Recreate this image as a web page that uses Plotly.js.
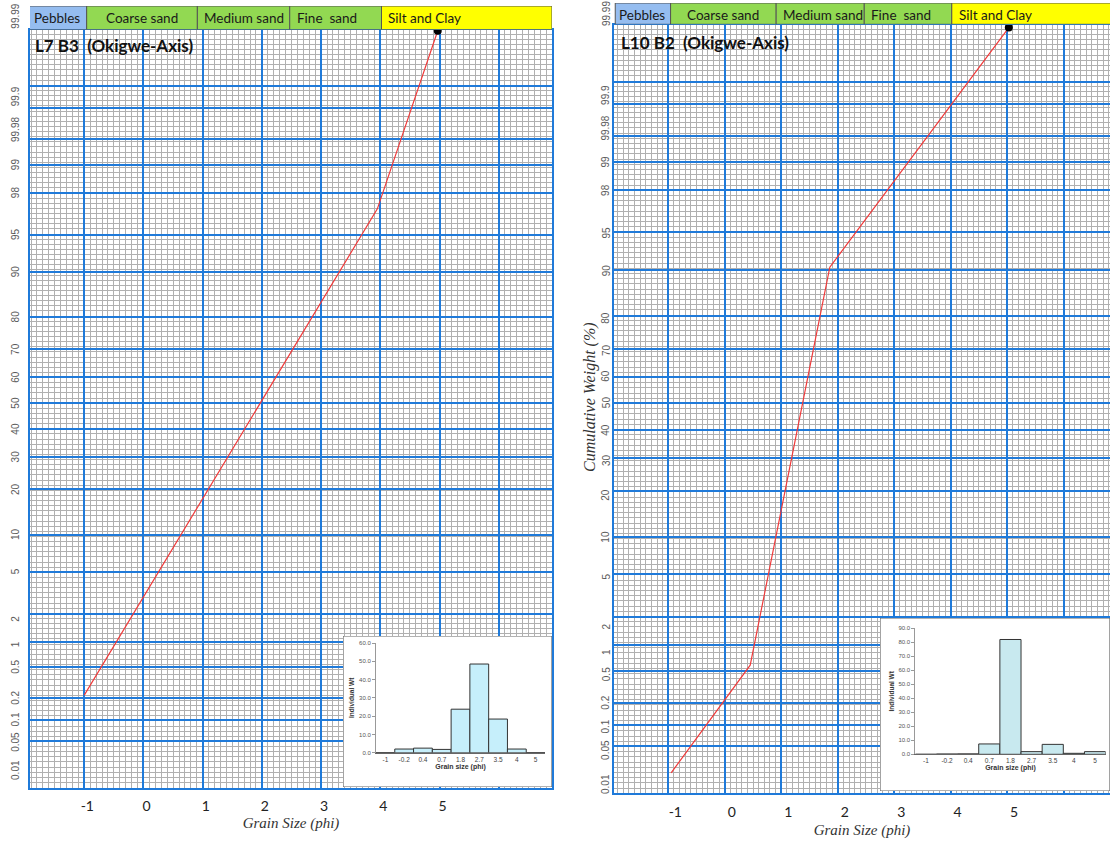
<!DOCTYPE html>
<html>
<head>
<meta charset="utf-8">
<script src="https://cdn.plot.ly/plotly-3.0.1.min.js"></script>
<style>html,body{margin:0;padding:0;background:#fff}#chart{width:1110px;height:841px}</style>
</head>
<body>
<div id="chart"></div>
<script>
// ---------------- data ----------------
const phiTicks    = [-1, 0, 1, 2, 3, 4, 5, 6];
const phiTickText = ['-1', '0', '1', '2', '3', '4', '5', ''];

// probability-paper major (blue) rulings, cumulative %
const gridPct = [99.9, 99.8, 99.5, 99, 98, 95, 90, 80, 70, 60, 50, 40, 30, 20, 10, 5, 2, 1, 0.5, 0.2, 0.1, 0.05];

// printed y labels and the probability level at which each one is printed
const yLabelText = ['99.99','99.9','99.98','99','98','95','90','80','70','60','50','40','30','20','10','5','2','1','0.5','0.2','0.1','0.05','0.01'];
const yLabelAtL7  = [99.992, 99.86, 99.62, 99, 98, 95, 90, 80, 70, 60, 50, 40, 30, 20, 10, 5, 1.75, 0.92, 0.5, 0.2, 0.1, 0.047, 0.017];
const yLabelAtL10 = [99.991, 99.85, 99.59, 99, 98, 95, 90, 79.5, 69.6, 60.5, 50.5, 40, 29.3, 19, 10, 4.8, 1.6, 0.84, 0.46, 0.2, 0.094, 0.043, 0.0126];

// grain-size class header (phi edges)
const headerLabels = ['Pebbles', 'Coarse sand', 'Medium sand', 'Fine  sand', 'Silt and Clay'];
const headerEdges  = [-1.94, -0.96, 0.91, 2.47, 4.02, 6.9];
const headerColors = ['#95bdf0', '#92d952', '#92d952', '#92d952', '#ffff00'];
const headerAlign  = ['left', 'center', 'left', 'left', 'left'];

// cumulative curves (phi, cumulative weight %)
const phiL7  = [-1, 3.95, 4.97];
const cumL7  = [0.22, 97.1, 99.986];
const phiL10 = [-0.95, 0.45, 1.86, 5.03];
const cumL10 = [0.019, 0.59, 90.5, 99.985];

// inset histograms
const histCats = ['-1', '-0.2', '0.4', '0.7', '1.8', '2.7', '3.5', '4', '5'];
const histL7   = [0, 2.0, 2.5, 1.8, 23.8, 48.5, 18.4, 2.0, 0];
const histL10  = [0, 0.2, 0.3, 7.4, 82.0, 1.9, 7.1, 0.7, 1.9];

// ---------------- probability scale ----------------
function probit(p) {
  const a=[-3.969683028665376e+01,2.209460984245205e+02,-2.759285104469687e+02,1.383577518672690e+02,-3.066479806614716e+01,2.506628277459239e+00];
  const b=[-5.447609879822406e+01,1.615858368580409e+02,-1.556989798598866e+02,6.680131188771972e+01,-1.328068155288572e+01];
  const c=[-7.784894002430293e-03,-3.223964580411365e-01,-2.400758277161838e+00,-2.549732539343734e+00,4.374664141464968e+00,2.938163982698783e+00];
  const d=[7.784695709041462e-03,3.224671290700398e-01,2.445134137142996e+00,3.754408661907416e+00];
  const pl = 0.02425, ph = 1 - pl;
  let q, r;
  if (p < pl) { q = Math.sqrt(-2*Math.log(p)); return (((((c[0]*q+c[1])*q+c[2])*q+c[3])*q+c[4])*q+c[5])/((((d[0]*q+d[1])*q+d[2])*q+d[3])*q+1); }
  if (p <= ph) { q = p - 0.5; r = q*q; return (((((a[0]*r+a[1])*r+a[2])*r+a[3])*r+a[4])*r+a[5])*q/(((((b[0]*r+b[1])*r+b[2])*r+b[3])*r+b[4])*r+1); }
  q = Math.sqrt(-2*Math.log(1-p)); return -(((((c[0]*q+c[1])*q+c[2])*q+c[3])*q+c[4])*q+c[5])/((((d[0]*q+d[1])*q+d[2])*q+d[3])*q+1);
}
const toZ = pct => probit(pct / 100);

// ---------------- layout helpers ----------------
const W = 1110, H = 841;
const px = v => v / W, py = v => 1 - v / H;
const BLUE = '#1f7ad9', GREY = '#b0b0b0';
const Z_RANGE = [-3.75, 3.645];

function mainX(dom, range, anchor, shift) {
  return {
    domain: dom, range: range, anchor: anchor,
    tickmode: 'array', tickvals: phiTicks, ticktext: phiTickText,
    showgrid: true, gridcolor: BLUE, gridwidth: 2,
    minor: { tick0: 0, dtick: 0.1, showgrid: true, gridcolor: GREY, gridwidth: 1 },
    showline: true, linecolor: BLUE, linewidth: 2, mirror: true,
    ticks: '', ticklabelshift: shift, ticklabelstandoff: 5,
    tickfont: { family: 'Lato', size: 14, color: '#222' },
    zeroline: false, fixedrange: true,
    title: { text: 'Grain Size (phi)', standoff: 4,
             font: { family: 'Liberation Serif', size: 15, color: '#333', style: 'italic' } }
  };
}
function mainY(dom, anchor, mirror) {
  return {
    domain: dom, range: Z_RANGE, anchor: anchor,
    tickmode: 'array', tickvals: gridPct.map(toZ), showticklabels: false,
    showgrid: true, gridcolor: BLUE, gridwidth: 2,
    minor: { tick0: 0, dtick: 0.05, showgrid: true, gridcolor: GREY, gridwidth: 1 },
    showline: true, linecolor: BLUE, linewidth: 2, mirror: mirror,
    ticks: '', zeroline: false, fixedrange: true
  };
}
const hidden = (dom, range, anchor) => ({ domain: dom, range: range, anchor: anchor, visible: false, fixedrange: true });

function histX(dom, anchor) {
  return {
    domain: dom, anchor: anchor, type: 'category', range: [-0.5, 8.5],
    showline: true, linecolor: '#666', linewidth: 1, ticks: '', showgrid: false, zeroline: false,
    tickfont: { family: 'Liberation Sans', size: 6.5, color: '#444' }, fixedrange: true,
    title: { text: '<b>Grain size (phi)</b>', standoff: 2, font: { family: 'Liberation Sans', size: 7, color: '#333' } }
  };
}
function histY(dom, anchor, top) {
  return {
    domain: dom, anchor: anchor, range: [0, top], dtick: 10, tickformat: '.1f',
    showline: true, linecolor: '#999', linewidth: 1, ticks: 'outside', ticklen: 3, tickcolor: '#999',
    showgrid: false, zeroline: false, fixedrange: true,
    tickfont: { family: 'Liberation Sans', size: 6, color: '#555' },
    title: { text: '<b>Individual Wt</b>', standoff: 3, font: { family: 'Liberation Sans', size: 6.5, color: '#333' } }
  };
}

// ---------------- panels ----------------
const L = { xd: [px(30), px(552)], yd: [py(787.6), py(29.5)], xr: [-1.917, 6.90], hd: [py(29.5), py(6)],
            boxX: [px(343), px(552)], boxY: [py(787), py(636)], hX: [px(376), px(545)], hY: [py(752.7), py(643)] };
const R = { xd: [px(614), 1], yd: [py(793.3), py(24.5)], xr: [-1.962, 6.822], hd: [py(24.3), py(3)],
            boxX: [px(880), 1], boxY: [py(791), py(618)], hX: [px(915.3), px(1105.6)], hY: [py(754.3), py(628.3)] };

const mids   = headerLabels.map((_, i) => (headerEdges[i] + headerEdges[i+1]) / 2);
const widths = headerLabels.map((_, i) => headerEdges[i+1] - headerEdges[i]);

function headerTrace(xa, ya) {
  return { type: 'bar', x: mids, y: headerLabels.map(() => 1), width: widths, base: 0,
           xaxis: xa, yaxis: ya, cliponaxis: false, hoverinfo: 'skip',
           marker: { color: headerColors, line: { color: '#555', width: 1 } } };
}
function curveTrace(xs, ys, xa, ya) {
  return { type: 'scatter', mode: 'lines', x: xs, y: ys.map(toZ), xaxis: xa, yaxis: ya,
           line: { color: '#f03a3a', width: 1.2 }, hoverinfo: 'skip', cliponaxis: false };
}
function endTrace(xs, ys, xa, ya) {
  const n = xs.length - 1;
  return { type: 'scatter', mode: 'markers', x: [xs[n]], y: [toZ(ys[n])], xaxis: xa, yaxis: ya,
           marker: { color: '#000', size: 8 }, hoverinfo: 'skip', cliponaxis: false };
}
function boxTrace(xa, ya) {
  return { type: 'scatter', mode: 'lines', x: [0, 1, 1, 0, 0], y: [0, 0, 1, 1, 0], fill: 'toself',
           fillcolor: '#ffffff', line: { color: '#666', width: 1.2 }, xaxis: xa, yaxis: ya,
           hoverinfo: 'skip', cliponaxis: false };
}
function histTrace(vals, color, xa, ya) {
  return { type: 'bar', x: histCats, y: vals, xaxis: xa, yaxis: ya, hoverinfo: 'skip',
           marker: { color: color, line: { color: '#333', width: 1 } } };
}

const data = [
  curveTrace(phiL7, cumL7, 'x', 'y'), endTrace(phiL7, cumL7, 'x', 'y'),
  headerTrace('x2', 'y2'),
  curveTrace(phiL10, cumL10, 'x3', 'y3'), endTrace(phiL10, cumL10, 'x3', 'y3'),
  headerTrace('x4', 'y4'),
  boxTrace('x5', 'y5'),
  histTrace(histL7, '#c6effb', 'x6', 'y6'),
  boxTrace('x7', 'y7'),
  histTrace(histL10, '#c8e9ef', 'x8', 'y8')
];

// ---------------- annotations ----------------
const ann = [];
function yLabels(at, xPix, yref) {
  at.forEach((p, i) => {
    ann.push({ xref: 'paper', x: px(xPix), yref: yref + ' domain',
               y: (toZ(p) - Z_RANGE[0]) / (Z_RANGE[1] - Z_RANGE[0]),
               text: yLabelText[i], textangle: -90, showarrow: false,
               xanchor: 'center', yanchor: 'middle',
               font: { family: 'Liberation Sans', size: 10, color: '#5a5a5a' } });
  });
}
yLabels(yLabelAtL7, 15.5, 'y');
yLabels(yLabelAtL10, 606, 'y3');

function headerText(xref, xStart) {
  headerLabels.forEach((t, i) => {
    const left = headerAlign[i] === 'left';
    ann.push({ xref: xref, yref: 'paper', x: left ? Math.max(headerEdges[i], xStart) : mids[i],
               y: xref === 'x2' ? py(18.5) : py(15), xanchor: left ? 'left' : 'center', yanchor: 'middle',
               xshift: left ? (i === 0 ? 2 : 5) : 0, showarrow: false, text: t,
               font: { family: 'Lato', size: 13.5, color: '#1a1a1a' } });
  });
}
headerText('x2', L.xr[0]);
headerText('x4', R.xr[0]);

ann.push({ xref: 'paper', yref: 'paper', x: px(33), y: py(46), xanchor: 'left', yanchor: 'middle', showarrow: false,
           text: '<b>L7 B3  (Okigwe-Axis)</b>', font: { family: 'Lato', size: 17, color: '#111' } });
ann.push({ xref: 'paper', yref: 'paper', x: px(619), y: py(43), xanchor: 'left', yanchor: 'middle', showarrow: false,
           text: '<b>L10 B2  (Okigwe-Axis)</b>', font: { family: 'Lato', size: 17, color: '#111' } });
ann.push({ xref: 'paper', yref: 'paper', x: px(590), y: py(397), xanchor: 'center', yanchor: 'middle', showarrow: false,
           textangle: -90, text: 'Cumulative Weight (%)',
           font: { family: 'Liberation Serif', size: 16, color: '#333', style: 'italic' } });

const layout = {
  width: W, height: H, margin: { l: 0, r: 0, t: 0, b: 0 },
  paper_bgcolor: '#ffffff', plot_bgcolor: '#ffffff', showlegend: false, bargap: 0,
  font: { family: 'Lato', color: '#222' },
  xaxis:  mainX(L.xd, L.xr, 'y', 3),
  yaxis:  mainY(L.yd, 'x', true),
  xaxis2: hidden(L.xd, L.xr, 'y2'),
  yaxis2: hidden(L.hd, [0, 1], 'x2'),
  xaxis3: mainX(R.xd, R.xr, 'y3', 7),
  yaxis3: mainY(R.yd, 'x3', false),
  xaxis4: hidden(R.xd, R.xr, 'y4'),
  yaxis4: hidden(R.hd, [0, 1], 'x4'),
  xaxis5: hidden(L.boxX, [0, 1], 'y5'),
  yaxis5: hidden(L.boxY, [0, 1], 'x5'),
  xaxis6: histX(L.hX, 'y6'),
  yaxis6: histY(L.hY, 'x6', 60),
  xaxis7: hidden(R.boxX, [0, 1], 'y7'),
  yaxis7: hidden(R.boxY, [0, 1], 'x7'),
  xaxis8: histX(R.hX, 'y8'),
  yaxis8: histY(R.hY, 'x8', 90),
  annotations: ann
};
layout.xaxis3.title.standoff = 5;

Plotly.newPlot('chart', data, layout, { staticPlot: true, displayModeBar: false });
</script>
</body>
</html>
